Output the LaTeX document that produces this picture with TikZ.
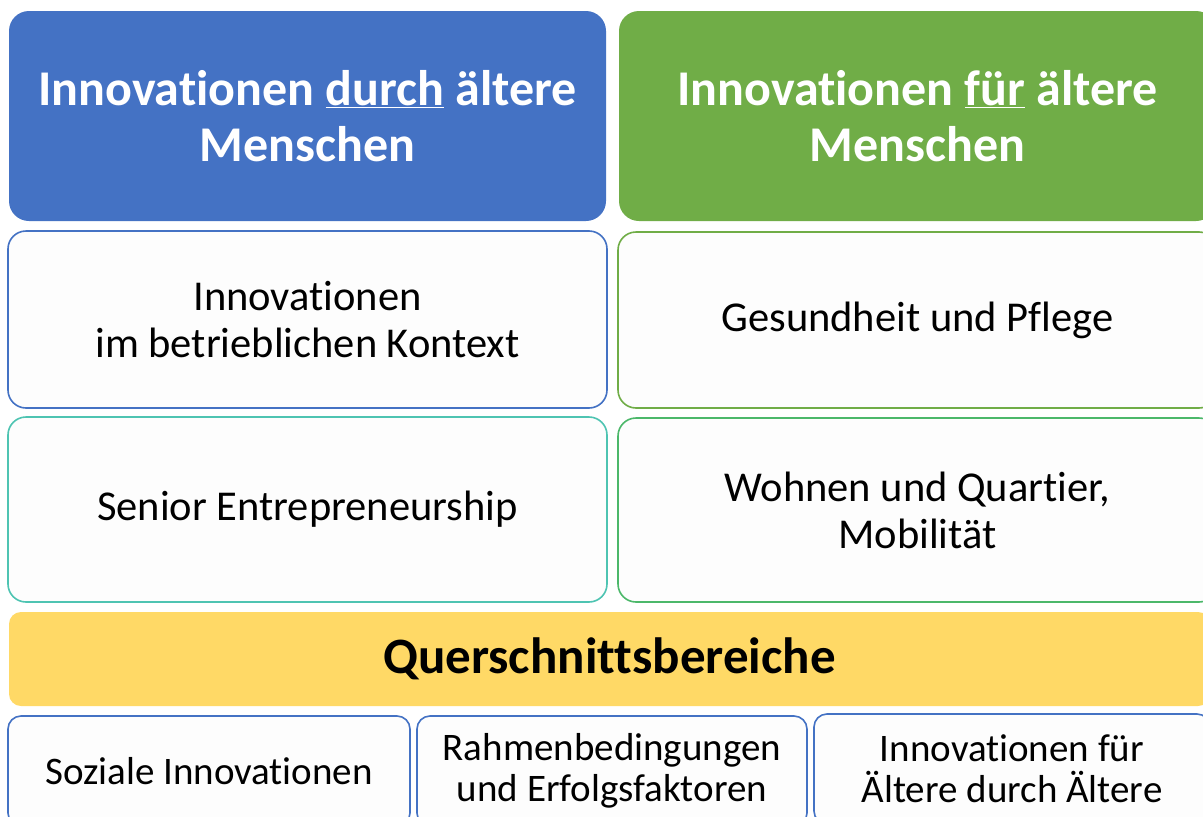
\documentclass[tikz,border=0pt]{standalone}
\usepackage{fontspec}
\setmainfont[Ligatures={NoCommon,NoContextual}]{Carlito}
\newcommand\Inno{Innovat\kern0pt ionen}
\definecolor{hblue}{HTML}{4472C4}
\definecolor{hgreen}{HTML}{70AD47}
\definecolor{teal2}{HTML}{4EC4B2}
\definecolor{green2}{HTML}{4CB86A}
\definecolor{ybar}{HTML}{FFD966}
\definecolor{boxfill}{HTML}{FDFDFD}
\tikzset{
  head/.style={rounded corners=20pt, inner sep=0pt, text=white, align=center,
    font=\fontsize{50}{56}\selectfont\bfseries},
  cell/.style={draw, line width=1.6pt, fill=boxfill, rounded corners=18pt, inner sep=0pt,
    align=center, font=\fontsize{42.5}{47}\selectfont},
  small/.style={draw=hblue, line width=1.6pt, fill=boxfill, rounded corners=13pt, inner sep=0pt,
    align=center, font=\fontsize{39}{41}\selectfont},
  bar/.style={fill=ybar, rounded corners=12pt, inner sep=0pt,
    font=\fontsize{51}{56}\selectfont\bfseries}
}
\begin{document}
\begin{tikzpicture}[x=1pt,y=-1pt]
\useasboundingbox (0,0) rectangle (1203,817);
\clip (0,0) rectangle (1203,817);
\fill[white] (0,0) rectangle (1203,817);
\node[head, fill=hblue, minimum width=597pt, minimum height=210pt] (h1) at (307.5,116)
  {\Inno{} \underline{durch} ältere\\Menschen};
\node[head, fill=hgreen, minimum width=597pt, minimum height=210pt] (h2) at (917.5,116)
  {\Inno{} \underline{für} ältere\\Menschen};
\node[cell, draw=hblue, minimum width=599pt, minimum height=177pt] (b1) at (307.5,319.5)
  {\Inno\\im betrieblichen Kontext};
\node[cell, draw=hgreen, minimum width=599pt, minimum height=176pt] (b2) at (917.5,320)
  {Gesundheit und Pflege};
\node[cell, draw=teal2, minimum width=599pt, minimum height=185pt] (b3) at (307.5,509.5)
  {Senior Entrepreneurship};
\node[cell, draw=green2, minimum width=599pt, minimum height=184pt] (b4) at (917.5,510)
  {Wohnen und Quartier,\\Mobilität};
\node[bar, minimum width=1201pt, minimum height=94pt] (q) at (609.5,659)
  {Querschnittsbereiche};
\node[small, minimum width=402pt, minimum height=110pt] (c1) at (209,771)
  {Soziale \Inno};
\node[small, minimum width=390pt, minimum height=110pt] (c2) at (612,771)
  {Rahmenbedingungen\\und Erfolgsfaktoren};
\node[small, minimum width=396pt, minimum height=110pt] (c3) at (1012,769)
  {\Inno{} für\\Ältere durch Ältere};
\end{tikzpicture}
\end{document}
